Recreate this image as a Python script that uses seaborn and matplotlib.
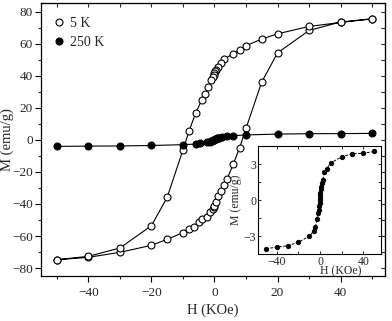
import numpy as np
import pandas as pd
import matplotlib
matplotlib.use("Agg")
import matplotlib.pyplot as plt
import seaborn as sns
from matplotlib.ticker import MultipleLocator

# ---- data ----
# 5 K loop: upper (descending) branch
h5_down = [50, 40, 30, 20, 15, 10, 8, 6, 3, 2, 1, 0.5, 0.2, 0, -0.2, -0.5, -1, -2, -3, -4, -6, -8, -10, -15, -20, -30, -40, -50]
m5_down = [75.5, 73.3, 70.8, 66.2, 62.9, 58.8, 56.3, 53.7, 50.5, 47.7, 45.5, 43.8, 42.8, 41.8, 40.8, 39.5, 37.5, 33.0, 28.7, 25.0, 16.6, 5.8, -6.3, -35.9, -53.6, -67.5, -72.7, -74.8]
# 5 K loop: lower (ascending) branch
h5_up = [-50, -40, -30, -20, -15, -10, -8, -6.5, -5, -4, -2.5, -1.5, -0.5, -0.2, 0, 0.5, 1, 2, 3, 4, 6, 8, 10, 15, 20, 30, 40, 50]
m5_up = [-74.8, -73.3, -70.2, -65.8, -62.1, -57.9, -55.8, -54.3, -51.5, -49.4, -47.9, -45.2, -43.0, -42.0, -41.0, -39.0, -34.8, -31.7, -28.1, -24.4, -15.0, -4.8, 7.2, 36.2, 54.3, 68.3, 73.6, 75.6]
# 250 K
h250 = [-50, -40, -30, -20, -10, -6, -4.5, -2.5, -1.5, -1, -0.7, -0.4, -0.2, 0, 0.2, 0.4, 0.7, 1, 1.5, 2.5, 4, 6, 10, 20, 30, 40, 50]
m250 = [-4.05, -3.9, -3.8, -3.5, -3.0, -2.6, -2.25, -1.6, -1.1, -0.8, -0.5, -0.2, 0.0, 0.2, 0.4, 0.6, 0.9, 1.1, 1.4, 1.7, 2.3, 2.6, 3.1, 3.6, 3.86, 3.9, 4.05]

x_ticks = [-40, -20, 0, 20, 40]
y_ticks = [-80, -60, -40, -20, 0, 20, 40, 60, 80]
inset_x_ticks = [-40, 0, 40]
inset_y_ticks = [-3, 0, 3]

df5 = pd.DataFrame({"H": h5_up + h5_down, "M": m5_up + m5_down})
df250 = pd.DataFrame({"H": h250, "M": m250})

sns.set_style("ticks")
plt.rcParams['font.family'] = ['Liberation Serif', 'DejaVu Serif']

fig = plt.figure(figsize=(3.92, 3.21), dpi=100)
ax = fig.add_axes([0.1046, 0.140, 0.877, 0.851])

sns.lineplot(data=df5, x="H", y="M", sort=False, estimator=None, ax=ax,
             color="black", lw=0.8, marker="o", markersize=5,
             markerfacecolor="white", markeredgecolor="black",
             markeredgewidth=0.8, label="5 K")
sns.lineplot(data=df250, x="H", y="M", sort=False, estimator=None, ax=ax,
             color="black", lw=0.8, marker="o", markersize=5,
             markerfacecolor="black", markeredgecolor="black",
             markeredgewidth=0.8, label="250 K")

ax.set_xlim(-55, 54)
ax.set_ylim(-85, 85.5)
ax.set_xticks(x_ticks)
ax.set_yticks(y_ticks)
ax.xaxis.set_minor_locator(MultipleLocator(10))
ax.yaxis.set_minor_locator(MultipleLocator(10))
ax.tick_params(axis="both", which="major", direction="out", length=4, width=0.8,
               labelsize=9.5, pad=2, color="black")
ax.tick_params(axis="x", which="major", pad=4)
ax.tick_params(axis="both", which="minor", direction="out", length=2.5, width=0.8)
for s in ax.spines.values():
    s.set_linewidth(0.9)
    s.set_color("black")

# top / right inside ticks
axt = ax.secondary_xaxis("top")
axt.set_xticks(list(range(-50, 51, 10)))
axt.tick_params(direction="in", length=3, width=0.8, labeltop=False)
axr = ax.secondary_yaxis("right")
axr.set_yticks(list(range(-80, 81, 10)))
axr.tick_params(direction="in", length=3, width=0.8, labelright=False)

ax.set_xlabel("H (KOe)", fontsize=10.5)
ax.xaxis.set_label_coords(0.5, -0.1)
ax.set_ylabel("M (emu/g)", fontsize=10.5)
ax.yaxis.set_label_coords(-0.078, 0.5)

leg = ax.legend(loc="upper left", frameon=False, fontsize=10, handlelength=0.6,
                handletextpad=0.5, borderaxespad=0.4, labelspacing=0.45,
                borderpad=0.6, bbox_to_anchor=(0.0, 1.0))
for line in leg.get_lines():
    line.set_linestyle("none")

# ---- inset ----
ins = fig.add_axes([0.659, 0.208, 0.312, 0.337])
sns.lineplot(data=df250, x="H", y="M", sort=False, estimator=None, ax=ins,
             color="black", lw=0.7, marker="o", markersize=3.2,
             markerfacecolor="black", markeredgecolor="black",
             markeredgewidth=0.6, linestyle=(0, (3, 1.5)))
ins.set_xlim(-57, 56)
ins.set_ylim(-4.5, 4.5)
ins.set_xticks(inset_x_ticks)
ins.set_yticks(inset_y_ticks)
ins.xaxis.set_minor_locator(MultipleLocator(20))
ins.yaxis.set_minor_locator(MultipleLocator(1.5))
ins.tick_params(axis="both", which="both", direction="in", length=2.5, width=0.7,
                labelsize=8.5, pad=1.5, top=True, right=True)
ins.tick_params(axis="x", pad=1)
for s in ins.spines.values():
    s.set_linewidth(0.8)
    s.set_color("black")
ins.set_xlabel("H (KOe)", fontsize=8.5)
ins.xaxis.set_label_coords(0.67, -0.105)
ins.set_ylabel("M (emu/g)", fontsize=8.5, labelpad=1)

fig.savefig("out.png", dpi=100)
